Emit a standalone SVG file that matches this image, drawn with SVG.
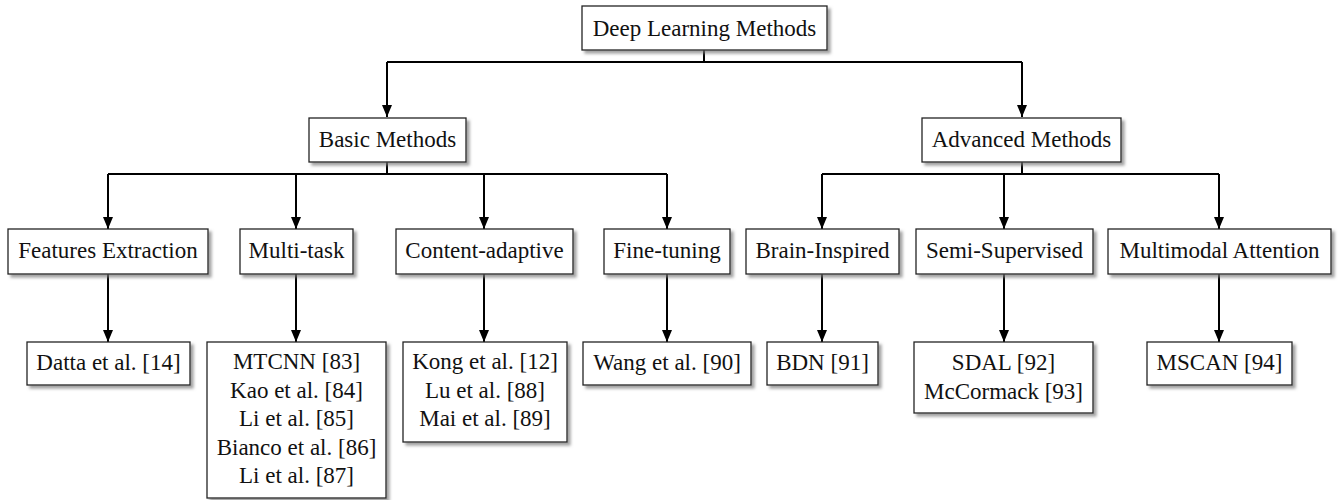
<svg xmlns="http://www.w3.org/2000/svg" width="1342" height="500" viewBox="0 0 1342 500">
  <style>
    .box { fill: #ffffff; stroke: #222222; stroke-width: 1.3; filter: url(#shadow); }
    .lbl { font-family: 'Liberation Serif', 'Times New Roman', 'DejaVu Serif', serif; font-size: 23px; fill: #111111; text-anchor: middle; }
    .wire { fill: none; stroke: #000000; stroke-width: 2; }
    .arrow { fill: none; stroke: #000000; stroke-width: 2; marker-end: url(#head); }
  </style>
  <defs>
    <filter id="shadow" x="-10%" y="-10%" width="130%" height="140%">
      <feDropShadow dx="3" dy="3" stdDeviation="1.8" flood-color="#7a7a7a" flood-opacity="0.7"/>
    </filter>
    <marker id="head" markerUnits="userSpaceOnUse" markerWidth="12" markerHeight="14" refX="12" refY="5" orient="auto">
      <path d="M0,0 L12,5 L0,10 Z" fill="#000000"/>
    </marker>
  </defs>

  <!-- connectors -->
  <g id="connectors">
    <!-- root to level 1 -->
    <path class="wire" d="M704,50 V62 M387,62 H1022"/>
    <path class="arrow" d="M387,62 V117"/>
    <path class="arrow" d="M1022,62 V117"/>
    <!-- Basic Methods to categories -->
    <path class="wire" d="M387,162 V174 M108,174 H667"/>
    <path class="arrow" d="M108,174 V229"/>
    <path class="arrow" d="M296,174 V229"/>
    <path class="arrow" d="M484,174 V229"/>
    <path class="arrow" d="M667,174 V229"/>
    <!-- Advanced Methods to categories -->
    <path class="wire" d="M1022,162 V174 M822,174 H1219"/>
    <path class="arrow" d="M822,174 V229"/>
    <path class="arrow" d="M1004,174 V229"/>
    <path class="arrow" d="M1219,174 V229"/>
    <!-- categories to works -->
    <path class="arrow" d="M108,274 V342"/>
    <path class="arrow" d="M296,274 V342"/>
    <path class="arrow" d="M484,274 V342"/>
    <path class="arrow" d="M667,274 V342"/>
    <path class="arrow" d="M822,274 V342"/>
    <path class="arrow" d="M1004,274 V342"/>
    <path class="arrow" d="M1219,274 V342"/>
  </g>

  <g font-family="Liberation Serif, DejaVu Serif, serif">
  <!-- level 0 -->
  <g id="deep-learning">
    <rect class="box" x="582" y="6" width="245" height="44"/>
    <text class="lbl" x="704.5" y="36">Deep Learning Methods</text>
  </g>

  <!-- level 1 -->
  <g id="basic">
    <rect class="box" x="309" y="118" width="157" height="44"/>
    <text class="lbl" x="387.5" y="147">Basic Methods</text>
  </g>
  <g id="advanced">
    <rect class="box" x="922" y="118" width="199" height="44"/>
    <text class="lbl" x="1021.5" y="147">Advanced Methods</text>
  </g>

  <!-- level 2 -->
  <g id="features-extraction">
    <rect class="box" x="8" y="229" width="200" height="45"/>
    <text class="lbl" x="108" y="258">Features Extraction</text>
  </g>
  <g id="multi-task">
    <rect class="box" x="240" y="229" width="113" height="45"/>
    <text class="lbl" x="296.5" y="258">Multi-task</text>
  </g>
  <g id="content-adaptive">
    <rect class="box" x="396" y="229" width="177" height="45"/>
    <text class="lbl" x="484.5" y="258">Content-adaptive</text>
  </g>
  <g id="fine-tuning">
    <rect class="box" x="604" y="229" width="126" height="45"/>
    <text class="lbl" x="667" y="258">Fine-tuning</text>
  </g>
  <g id="brain-inspired">
    <rect class="box" x="746" y="229" width="153" height="45"/>
    <text class="lbl" x="822.5" y="258">Brain-Inspired</text>
  </g>
  <g id="semi-supervised">
    <rect class="box" x="916" y="229" width="177" height="45"/>
    <text class="lbl" x="1004.5" y="258">Semi-Supervised</text>
  </g>
  <g id="multimodal-attention">
    <rect class="box" x="1108" y="229" width="223" height="45"/>
    <text class="lbl" x="1219.5" y="258">Multimodal Attention</text>
  </g>

  <!-- level 3 -->
  <g id="datta">
    <rect class="box" x="27" y="342" width="163" height="43"/>
    <text class="lbl" x="108.5" y="370">Datta et al. [14]</text>
  </g>
  <g id="multi-task-works">
    <rect class="box" x="207" y="342" width="179" height="156"/>
    <text class="lbl" x="296.5" y="369">MTCNN [83]</text>
    <text class="lbl" x="296.5" y="397.5">Kao et al. [84]</text>
    <text class="lbl" x="296.5" y="426">Li et al. [85]</text>
    <text class="lbl" x="296.5" y="454.5">Bianco et al. [86]</text>
    <text class="lbl" x="296.5" y="483">Li et al. [87]</text>
  </g>
  <g id="content-adaptive-works">
    <rect class="box" x="403" y="342" width="164" height="100"/>
    <text class="lbl" x="485" y="369">Kong et al. [12]</text>
    <text class="lbl" x="485" y="397.5">Lu et al. [88]</text>
    <text class="lbl" x="485" y="426">Mai et al. [89]</text>
  </g>
  <g id="wang">
    <rect class="box" x="583" y="342" width="168" height="43"/>
    <text class="lbl" x="667" y="370">Wang et al. [90]</text>
  </g>
  <g id="bdn">
    <rect class="box" x="767" y="342" width="111" height="43"/>
    <text class="lbl" x="822.5" y="370">BDN [91]</text>
  </g>
  <g id="semi-supervised-works">
    <rect class="box" x="914" y="342" width="179" height="71"/>
    <text class="lbl" x="1003.5" y="370">SDAL [92]</text>
    <text class="lbl" x="1003.5" y="398.5">McCormack [93]</text>
  </g>
  <g id="mscan">
    <rect class="box" x="1147" y="342" width="145" height="43"/>
    <text class="lbl" x="1219.5" y="370">MSCAN [94]</text>
  </g>
  </g>
</svg>
